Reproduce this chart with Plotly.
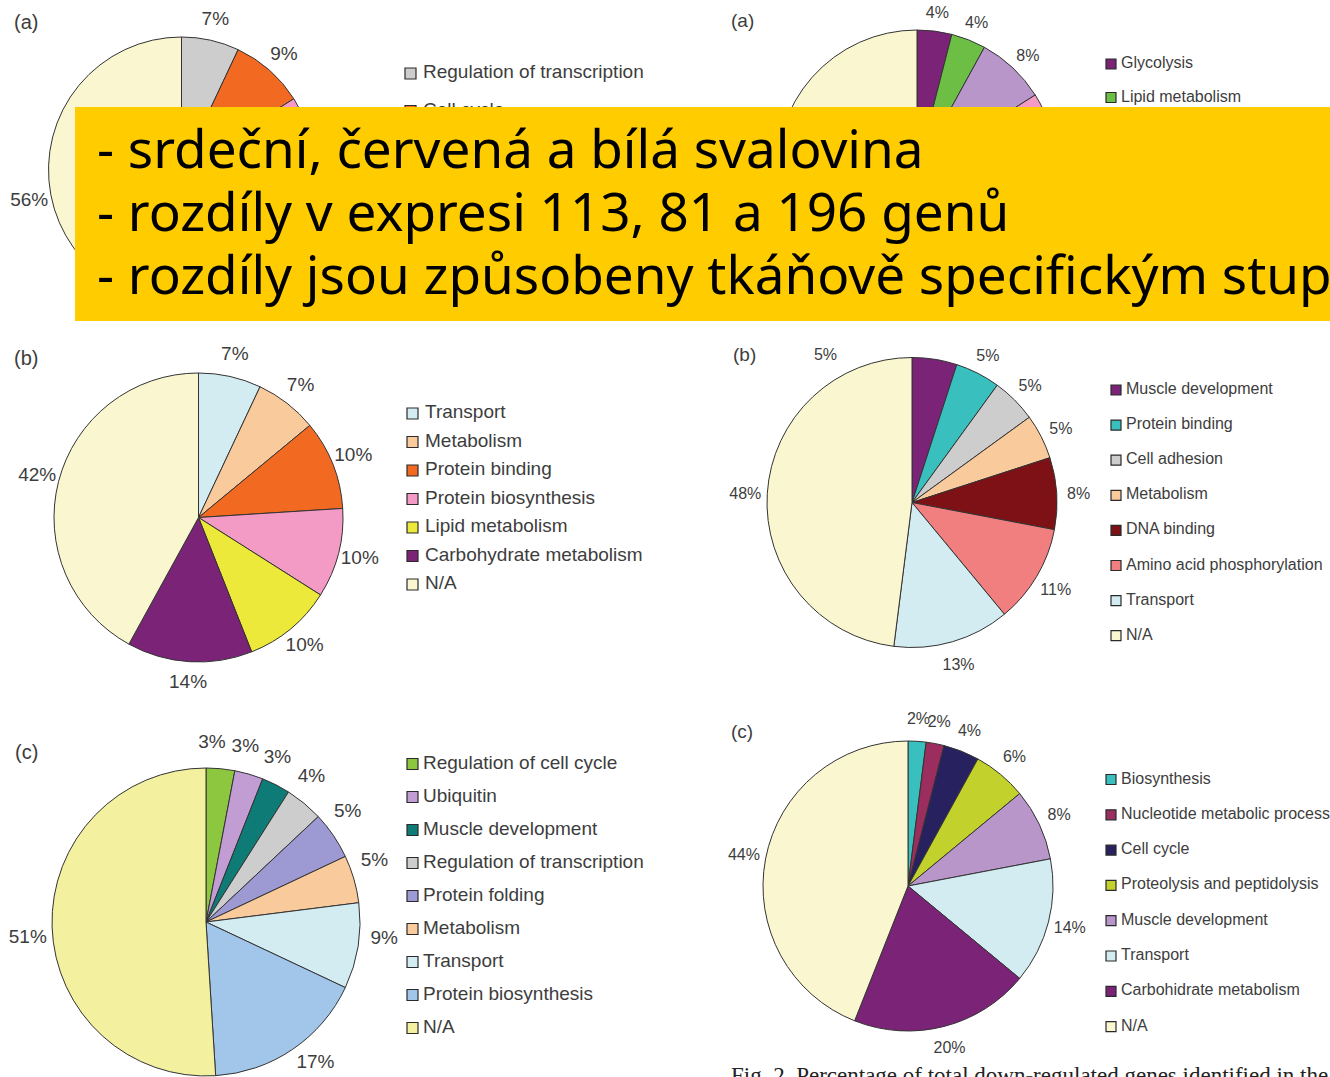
import math
import plotly.graph_objects as go

W, H = 1330, 1077

# ---- data ---------------------------------------------------------------
# (a) left
a1_labels = ["Regulation of transcription", "Cell cycle", "Other", "N/A"]
a1_values = [7, 9, 28, 56]

# (a) right
a2_labels = ["Glycolysis", "Lipid metabolism", "Muscle development", "Other", "N/A"]
a2_values = [4, 4, 8, 30, 54]

# (b) left
b1_labels = ["Transport", "Metabolism", "Protein binding", "Protein biosynthesis",
             "Lipid metabolism", "Carbohydrate metabolism", "N/A"]
b1_values = [7, 7, 10, 10, 10, 14, 42]

# (b) right
b2_labels = ["Muscle development", "Protein binding", "Cell adhesion", "Metabolism",
             "DNA binding", "Amino acid phosphorylation", "Transport", "N/A"]
b2_values = [5, 5, 5, 5, 8, 11, 13, 48]

# (c) left
c1_labels = ["Regulation of cell cycle", "Ubiquitin", "Muscle development",
             "Regulation of transcription", "Protein folding", "Metabolism",
             "Transport", "Protein biosynthesis", "N/A"]
c1_values = [3, 3, 3, 4, 5, 5, 9, 17, 51]

# (c) right
c2_labels = ["Biosynthesis", "Nucleotide metabolic process", "Cell cycle",
             "Proteolysis and peptidolysis", "Muscle development", "Transport",
             "Carbohidrate metabolism", "N/A"]
c2_values = [2, 2, 4, 6, 8, 14, 20, 44]

overlay_lines = [
    "- srdeční, červená a bílá svalovina",
    "- rozdíly v expresi 113, 81 a 196 genů",
    "- rozdíly jsou způsobeny tkáňově specifickým stup",
]
caption = "Fig. 2. Percentage of total down-regulated genes identified in the"

# ---- colours ------------------------------------------------------------
CREAM = "#FAF7D0"
GRAY = "#CDCDCD"
ORANGE = "#F26A21"
PINK = "#F39BC5"
LCYAN = "#D2ECF1"
PEACH = "#F9CB9C"
YELLOW = "#ECE93A"
PURPLE = "#7B2477"
TEAL = "#3ABFBF"
DARKRED = "#7D1116"
SALMON = "#F27F7F"
GREEN_C = "#8DC63F"
GREEN_A = "#6DBE45"
LILAC = "#C29DD4"
LILAC2 = "#B996C9"
DTEAL = "#0F7B76"
PERI = "#9D99D2"
LBLUE = "#A2C6EA"
NA_YEL = "#F3F0A0"
MAROON = "#9C2D5F"
NAVY = "#27225F"
OLIVE = "#C3D12C"

TXT = "#3d3d3d"
SANS = "Liberation Sans, Arial, sans-serif"

# per-panel geometry: pie centre/radius, label offsets, legend placement
panels = [
    dict(labels=a1_labels, values=a1_values,
         colors=[GRAY, ORANGE, PINK, CREAM],
         c=(181.5, 170), r=133, ld=22, ldy=2, lang=0, pfs=19,
         sq=410.5, tx=423, ly=73.5, step=37.5, lfs=19, sqs=11,
         legend_n=2, hide={2},
         tag="(a)", tagpos=(26, 22), tfs=20),
    dict(labels=a2_labels, values=a2_values,
         colors=[PURPLE, GREEN_A, LILAC2, PINK, CREAM],
         c=(917, 170), r=140, ld=22, ldy=5, lang=0, pfs=16,
         sq=1111, tx=1121, ly=64, step=33.5, lfs=16, sqs=10,
         legend_n=2, hide={3, 4},
         tag="(a)", tagpos=(742, 20), tfs=19),
    dict(labels=b1_labels, values=b1_values,
         colors=[LCYAN, PEACH, ORANGE, PINK, YELLOW, PURPLE, CREAM],
         c=(198.5, 517.5), r=144.5, ld=22, ldy=0, lang=0, pfs=19,
         sq=412.5, tx=425, ly=413.5, step=28.5, lfs=19, sqs=11,
         tag="(b)", tagpos=(26, 358), tfs=20),
    dict(labels=b2_labels, values=b2_values,
         colors=[PURPLE, TEAL, GRAY, PEACH, DARKRED, SALMON, LCYAN, CREAM],
         c=(912, 502.5), r=145, ld=22, ldy=3, lang=0, pfs=16,
         sq=1116, tx=1126, ly=390, step=35.1, lfs=16, sqs=10,
         override={0: (-30, 173)},
         tag="(b)", tagpos=(744, 354), tfs=19),
    dict(labels=c1_labels, values=c1_values,
         colors=[GREEN_C, LILAC, DTEAL, GRAY, PERI, PEACH, LCYAN, LBLUE, NA_YEL],
         c=(206, 922), r=154, ld=25, ldy=0, lang=-3.5, pfs=19,
         sq=412.5, tx=423, ly=764, step=33, lfs=19, sqs=11,
         tag="(c)", tagpos=(26, 752), tfs=20),
    dict(labels=c2_labels, values=c2_values,
         colors=[TEAL, MAROON, NAVY, OLIVE, LILAC2, LCYAN, PURPLE, CREAM],
         c=(908, 886), r=145, ld=22, ldy=1, lang=0, pfs=16,
         sq=1111, tx=1121, ly=779.5, step=35.3, lfs=16, sqs=10,
         tag="(c)", tagpos=(742, 731), tfs=19),
]

fig = go.Figure()
annotations = []

for p in panels:
    cx, cy = p["c"]
    r = p["r"]
    fig.add_trace(go.Pie(
        labels=p["labels"], values=p["values"], sort=False,
        direction="clockwise", rotation=0, textinfo="none",
        hoverinfo="label+percent", showlegend=False,
        marker=dict(colors=p["colors"], line=dict(color="#333333", width=1)),
        domain=dict(x=[(cx - r) / W, (cx + r) / W],
                    y=[1 - (cy + r) / H, 1 - (cy - r) / H]),
    ))

    # percentage labels placed around the rim at each slice's mid-angle
    total = sum(p["values"])
    cum = 0
    lx, ly_, lt = [], [], []
    hide = p.get("hide", set())
    for i, v in enumerate(p["values"]):
        ang = 360 * (cum + v / 2) / total + p["lang"]
        R = r + p["ld"]
        cum += v
        if i in hide:
            continue
        if i in p.get("override", {}):
            ang, R = p["override"][i]
        a = math.radians(ang)
        lx.append(cx + R * math.sin(a))
        ly_.append(cy - R * math.cos(a) + p["ldy"])
        lt.append(f"{v}%")
    fig.add_trace(go.Scatter(
        x=lx, y=ly_, text=lt, mode="text", textposition="middle center",
        textfont=dict(family=SANS, size=p["pfs"], color=TXT),
        hoverinfo="skip", showlegend=False))

    # legend: swatches + names
    n = p.get("legend_n", len(p["labels"]))
    ys = [p["ly"] + k * p["step"] for k in range(n)]
    fig.add_trace(go.Scatter(
        x=[p["sq"]] * n, y=ys, mode="markers",
        marker=dict(symbol="square", size=p["sqs"], color=p["colors"][:n],
                    line=dict(color="#2a2a2a", width=1.2)),
        hoverinfo="skip", showlegend=False))
    fig.add_trace(go.Scatter(
        x=[p["tx"]] * n, y=ys, text=p["labels"][:n], mode="text",
        textposition="middle right",
        textfont=dict(family=SANS, size=p["lfs"], color=TXT),
        hoverinfo="skip", showlegend=False))

    annotations.append(dict(
        x=p["tagpos"][0], y=p["tagpos"][1], xref="x", yref="y",
        text=p["tag"], showarrow=False, xanchor="center", yanchor="middle",
        font=dict(family=SANS, size=p["tfs"], color=TXT)))

# yellow note box with the three bullet lines
box_lines_y = [147, 210, 273]
for line, yy in zip(overlay_lines, box_lines_y):
    annotations.append(dict(
        x=95, y=yy, xref="x", yref="y", text=line, showarrow=False,
        xanchor="left", yanchor="middle",
        font=dict(family="Comic Sans MS, Noto Sans, sans-serif", size=53,
                  color="#000000")))

# figure caption running off the bottom edge
annotations.append(dict(
    x=729, y=1061, xref="x", yref="y", text=caption, showarrow=False,
    xanchor="left", yanchor="top",
    font=dict(family="Liberation Serif, Times New Roman, serif", size=23,
              color="#222222")))

fig.update_layout(
    width=W, height=H, margin=dict(l=0, r=0, t=0, b=0),
    paper_bgcolor="white", plot_bgcolor="white",
    xaxis=dict(range=[0, W], visible=False, fixedrange=True, domain=[0, 1]),
    yaxis=dict(range=[H, 0], visible=False, fixedrange=True, domain=[0, 1]),
    shapes=[dict(type="rect", xref="x", yref="y", x0=75, x1=W + 5, y0=107, y1=321,
                 fillcolor="#FFCC00", line=dict(width=0), layer="above")],
    annotations=annotations,
    showlegend=False,
)

fig.write_html("out.html")
